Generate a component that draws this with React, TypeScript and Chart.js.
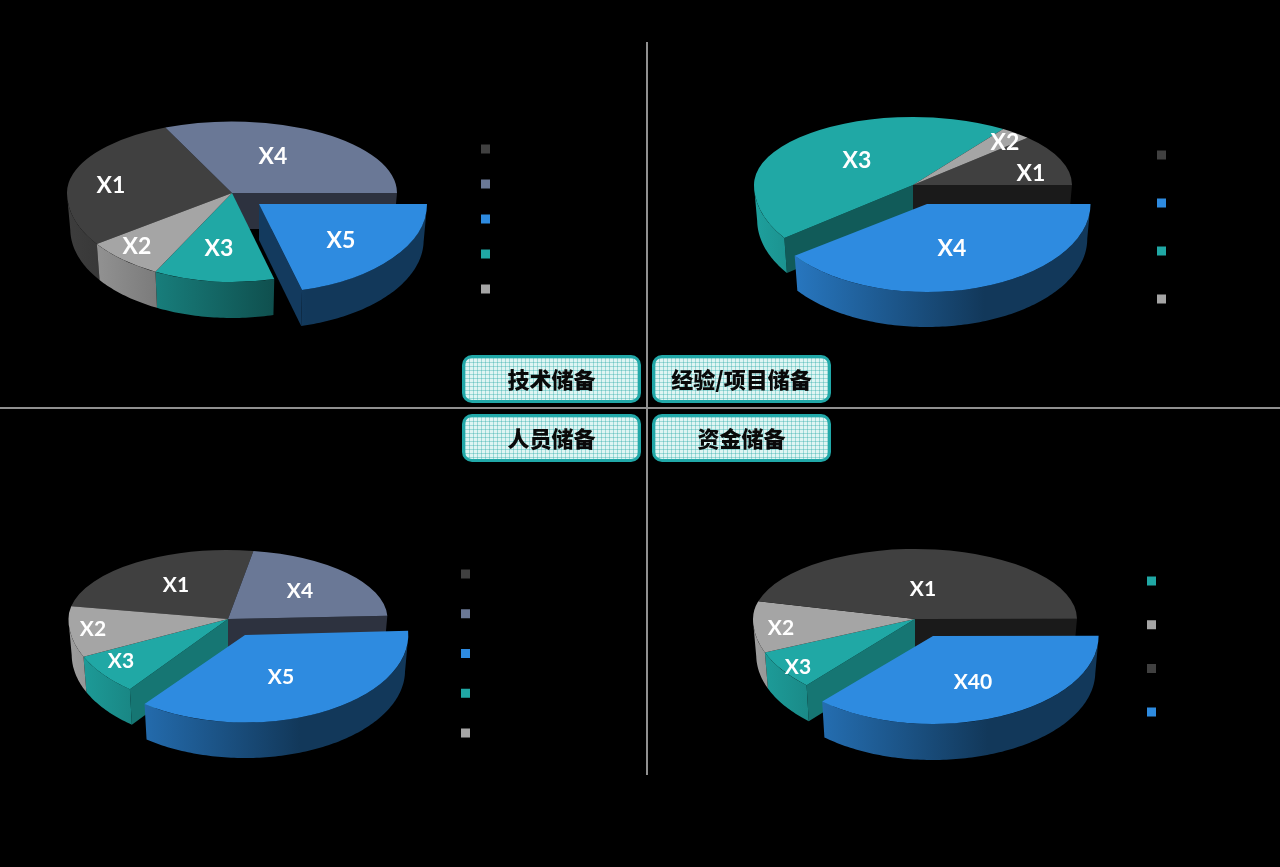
import React, { useEffect, useRef } from 'react';
import { Chart, registerables, ArcElement, Plugin } from 'chart.js';

Chart.register(...registerables);

const DARK = '#404040';
const GREY = '#a5a5a5';
const TEAL = '#20a8a5';
const BLUE = '#2e8be0';
const SLATE = '#6a7896';

// 技术储备
const techLabels = ['X1', 'X4', 'X5', 'X3', 'X2'];
const techValues = [28.1, 31.6, 20.9, 11.8, 7.6];
const techColors = [DARK, SLATE, BLUE, TEAL, GREY];

// 经验/项目储备
const expLabels = ['X1', 'X4', 'X3', 'X2'];
const expValues = [12.2, 40.0, 44.6, 3.2];
const expColors = [DARK, BLUE, TEAL, GREY];

// 人员储备
const staffLabels = ['X1', 'X4', 'X5', 'X3', 'X2'];
const staffValues = [24.6, 21.7, 36.3, 7.5, 9.9];
const staffColors = [DARK, SLATE, BLUE, TEAL, GREY];

// 资金储备
const fundLabels = ['X3', 'X2', 'X1', 'X40'];
const fundValues = [7.2, 10.2, 45.9, 36.7];
const fundColors = [TEAL, GREY, DARK, BLUE];

const boxTitles = ['技术储备', '经验/项目储备', '人员储备', '资金储备'];

interface PanelConfig {
  labels: string[];
  values: number[];
  colors: string[];
  rect: [number, number, number, number]; // canvas left, top, width, height
  center: [number, number];
  radius: number;
  backRy: number; // the far half of the ellipse is flatter than the near one
  frontRy: number;
  depth: number;
  rotation: number;
  exploded: number;
  apex: [number, number]; // where the pulled-out slice's tip ends up
  explodedRx: number;
  explodedRy: number;
  cutShades: number[];
  labelOffsets: [number, number][]; // from the tip of each slice
  labelSize: number;
  legendX: number;
  legendY: number;
  legendPitch: number;
}

const panels: PanelConfig[] = [
  {
    labels: techLabels, values: techValues, colors: techColors,
    rect: [0, 0, 640, 400],
    center: [232, 193], radius: 165, backRy: 71.5, frontRy: 89, depth: 36,
    rotation: 235, exploded: 2, apex: [259, 204], explodedRx: 168, explodedRy: 89,
    cutShades: [0.4, 0.42, 0.42, 0.55, 0.6],
    labelOffsets: [[-121, -7], [41, -36], [82, 37], [-13, 56], [-95, 54]],
    labelSize: 23,
    legendX: 481, legendY: 143, legendPitch: 35,
  },
  {
    labels: expLabels, values: expValues, colors: expColors,
    rect: [650, 0, 630, 400],
    center: [913, 185], radius: 159, backRy: 68, frontRy: 90, depth: 35,
    rotation: 46.1, exploded: 1, apex: [927, 204], explodedRx: 163.5, explodedRy: 88,
    cutShades: [0.4, 0.42, 0.54, 0.5],
    labelOffsets: [[118, -11], [25, 45], [-56, -24], [92, -42]],
    labelSize: 23,
    legendX: 1157, legendY: 149, legendPitch: 48,
  },
  {
    labels: staffLabels, values: staffValues, colors: staffColors,
    rect: [0, 412, 640, 400],
    center: [228, 619], radius: 159.5, backRy: 69, frontRy: 89, depth: 35.5,
    rotation: 280.6, exploded: 2, apex: [245, 635], explodedRx: 163.3, explodedRy: 87.5,
    cutShades: [0.4, 0.42, 0.42, 0.7, 0.6],
    labelOffsets: [[-52, -34], [72, -28], [36, 42], [-107, 42], [-135, 10]],
    labelSize: 21,
    legendX: 461, legendY: 568, legendPitch: 39.75,
  },
  {
    labels: fundLabels, values: fundValues, colors: fundColors,
    rect: [650, 412, 630, 400],
    center: [915, 619], radius: 162, backRy: 70, frontRy: 89, depth: 36,
    rotation: 222, exploded: 3, apex: [933, 636], explodedRx: 165.6, explodedRy: 88,
    cutShades: [0.7, 0.6, 0.4, 0.42],
    labelOffsets: [[-117, 48], [-134, 9], [8, -30], [40, 46]],
    labelSize: 21,
    legendX: 1147, legendY: 575, legendPitch: 43.7,
  },
];

const shade = (hex: string, f: number) => {
  const n = parseInt(hex.slice(1), 16);
  return `rgb(${Math.round((n >> 16) * f)},${Math.round(((n >> 8) & 255) * f)},${Math.round((n & 255) * f)})`;
};

// the flat arcs come from the library, the plugin only squashes them and adds the side walls
const makePie3d = (p: PanelConfig): Plugin<'pie'> => {
  const [left, top] = p.rect;
  const cx = p.center[0] - left;
  const cy = p.center[1] - top;
  const ax = p.apex[0] - left;
  const ay = p.apex[1] - top;
  const count = p.values.length;

  const tip = (i: number): [number, number] => (i === p.exploded ? [ax, ay] : [cx, cy]);

  const onRim = (i: number, a: number): [number, number] => {
    const s = Math.sin(a);
    const c = Math.cos(a);
    if (i === p.exploded) return [ax + p.explodedRx * c, ay + p.explodedRy * s];
    return [cx + p.radius * c, cy + (s < 0 ? p.backRy : p.frontRy) * s];
  };

  // the underside is a little narrower, the picture has some perspective
  const below = (i: number, [x, y]: [number, number]): [number, number] => {
    const tx = tip(i)[0];
    return [tx + (x - tx) * 0.98, y + p.depth];
  };

  const fillPoly = (ctx: CanvasRenderingContext2D, pts: [number, number][], fill: string | CanvasGradient) => {
    ctx.beginPath();
    pts.forEach(([x, y], k) => (k ? ctx.lineTo(x, y) : ctx.moveTo(x, y)));
    ctx.closePath();
    ctx.fillStyle = fill;
    ctx.fill();
  };

  const drawFace = (ctx: CanvasRenderingContext2D, i: number, a: number) => {
    const [tx, ty] = tip(i);
    const edge = onRim(i, a);
    fillPoly(ctx, [[tx, ty], edge, below(i, edge), [tx, ty + p.depth]], shade(p.colors[i], p.cutShades[i]));
  };

  // only faces next to the gap of the pulled-out slice can be seen, and only if they look down
  const drawFaces = (ctx: CanvasRenderingContext2D, arcs: ArcElement[], i: number) => {
    const arc = arcs[i] as any;
    const touchesGapAtStart = i === p.exploded || (i + count - 1) % count === p.exploded;
    const touchesGapAtEnd = i === p.exploded || (i + 1) % count === p.exploded;
    if (touchesGapAtStart && Math.cos(arc.startAngle) < 0) drawFace(ctx, i, arc.startAngle);
    if (touchesGapAtEnd && Math.cos(arc.endAngle) > 0) drawFace(ctx, i, arc.endAngle);
  };

  const drawOuterWall = (ctx: CanvasRenderingContext2D, arcs: ArcElement[], i: number) => {
    const arc = arcs[i] as any;
    const rim: [number, number][] = [];
    const n = Math.ceil((arc.endAngle - arc.startAngle) / 0.02);
    for (let k = 0; k <= n; k++) {
      const a = arc.startAngle + ((arc.endAngle - arc.startAngle) * k) / n;
      if (Math.sin(a) >= -0.001) rim.push(onRim(i, a));
    }
    if (rim.length < 2) return;
    const grad = ctx.createLinearGradient(cx - p.radius, 0, cx + 0.45 * p.radius, 0);
    grad.addColorStop(0, shade(p.colors[i], 0.95));
    grad.addColorStop(1, shade(p.colors[i], 0.4));
    const lower = rim.map((pt) => below(i, pt)).reverse();
    fillPoly(ctx, [...rim, ...lower], grad);
  };

  return {
    id: 'pie3d',
    afterLayout(chart) {
      const legend = chart.legend as any;
      const pad = legend.options.labels.padding;
      legend.left = p.legendX - left - pad;
      legend.right = legend.left + legend.width;
      legend.top = p.legendY - top - pad;
      legend.bottom = legend.top + legend.height;
    },
    beforeDatasetsDraw(chart) {
      const ctx = chart.ctx;
      const arcs = chart.getDatasetMeta(0).data as unknown as ArcElement[];
      const order = arcs.map((_, i) => i).filter((i) => i !== p.exploded);

      order.forEach((i) => drawFaces(ctx, arcs, i));
      order.forEach((i) => drawOuterWall(ctx, arcs, i));
      drawFaces(ctx, arcs, p.exploded);
      drawOuterWall(ctx, arcs, p.exploded);

      const halves: [number, number, number][] = [
        [0, cy, p.backRy / p.radius],
        [cy, chart.height - cy, p.frontRy / p.radius],
      ];
      halves.forEach(([y, h, k]) => {
        ctx.save();
        ctx.beginPath();
        ctx.rect(0, y, chart.width, h);
        ctx.clip();
        ctx.translate(cx, cy);
        ctx.scale(1, k);
        ctx.translate(-cx, -cy);
        order.forEach((i) => arcs[i].draw(ctx));
        ctx.restore();
      });

      ctx.save();
      ctx.translate(ax, ay);
      ctx.scale(p.explodedRx / p.radius, p.explodedRy / p.radius);
      ctx.translate(-cx, -cy);
      arcs[p.exploded].draw(ctx);
      ctx.restore();

      return false;
    },
    afterDraw(chart) {
      const ctx = chart.ctx;
      ctx.save();
      ctx.font = `bold ${p.labelSize}px Lato`;
      ctx.fillStyle = '#fff';
      ctx.textAlign = 'center';
      ctx.textBaseline = 'middle';
      p.labels.forEach((text, i) => {
        const [tx, ty] = tip(i);
        ctx.fillText(text, tx + p.labelOffsets[i][0], ty + p.labelOffsets[i][1]);
      });
      ctx.restore();
    },
  };
};

const PiePanel: React.FC<{ panel: PanelConfig }> = ({ panel }) => {
  const canvasRef = useRef<HTMLCanvasElement>(null);
  const [left, top, width, height] = panel.rect;

  useEffect(() => {
    if (!canvasRef.current) return;
    const lx = panel.center[0] - left;
    const ly = panel.center[1] - top;

    const chart = new Chart(canvasRef.current, {
      type: 'pie',
      data: {
        labels: panel.labels,
        datasets: [{
          data: panel.values,
          backgroundColor: panel.colors,
          borderWidth: 0,
        }],
      },
      options: {
        responsive: false,
        animation: false,
        events: [],
        radius: panel.radius,
        rotation: panel.rotation,
        layout: {
          padding: {
            left: Math.max(0, 2 * lx - width),
            right: Math.max(0, width - 2 * lx),
            top: Math.max(0, 2 * ly - height),
            bottom: Math.max(0, height - 2 * ly),
          },
        },
        plugins: {
          tooltip: { enabled: false },
          legend: {
            position: 'chartArea',
            align: 'start',
            labels: {
              boxWidth: 9,
              boxHeight: 9,
              color: '#000',
              font: { size: 12 },
              padding: panel.legendPitch - 12,
            },
          },
        },
      },
      plugins: [makePie3d(panel)],
    });

    return () => chart.destroy();
  }, []);

  return (
    <canvas
      ref={canvasRef}
      width={width}
      height={height}
      style={{ position: 'absolute', left, top, width, height }}
    />
  );
};

const boxStyle: React.CSSProperties = {
  position: 'absolute',
  boxSizing: 'border-box',
  width: 179,
  height: 48,
  paddingBottom: 2,
  border: '3px solid #21a8a8',
  borderRadius: 10,
  backgroundColor: '#dff5f3',
  backgroundImage:
    'linear-gradient(90deg, rgba(32,168,165,0.35) 1px, transparent 1px), linear-gradient(rgba(32,168,165,0.35) 1px, transparent 1px)',
  backgroundSize: '4px 4px',
  color: '#0a0a0a',
  font: '900 22px "Noto Sans CJK SC"',
  display: 'flex',
  alignItems: 'center',
  justifyContent: 'center',
};

const boxSpots = [
  { left: 462, top: 355 },
  { left: 652, top: 355 },
  { left: 462, top: 414 },
  { left: 652, top: 414 },
];

export default function App() {
  return (
    <div style={{ position: 'absolute', left: 0, top: 0, width: 1280, height: 867, background: '#000', overflow: 'hidden' }}>
      {panels.map((panel, i) => <PiePanel key={i} panel={panel} />)}
      <div style={{ position: 'absolute', left: 0, top: 407, width: 1280, height: 2, background: '#909090' }} />
      <div style={{ position: 'absolute', left: 646, top: 42, width: 2, height: 733, background: '#909090' }} />
      {boxTitles.map((title, i) => (
        <div key={title} style={{ ...boxStyle, ...boxSpots[i] }}>{title}</div>
      ))}
    </div>
  );
}
